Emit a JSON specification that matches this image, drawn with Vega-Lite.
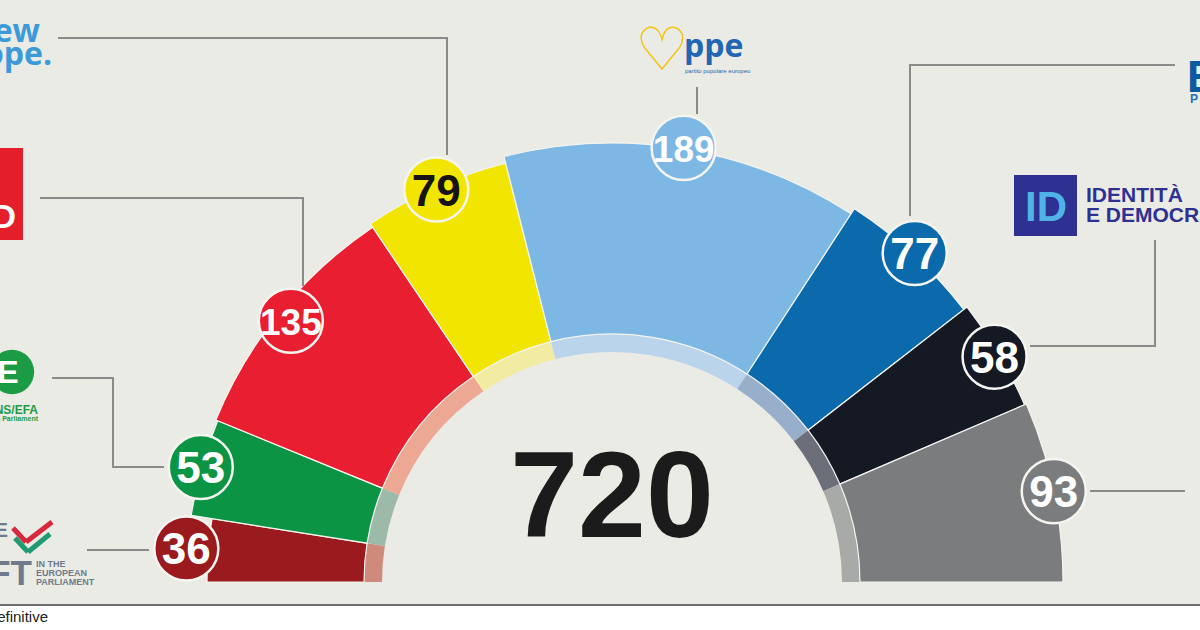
{
  "$schema": "https://vega.github.io/schema/vega-lite/v6.json",
  "width": 1200,
  "height": 630,
  "padding": 0,
  "autosize": {"type": "none"},
  "background": "#ebebe6",
  "config": {"view": {"stroke": null}, "axis": {"disable": true}},
  "datasets": {
    "seats": [
      {"party": "The Left", "seats": 36, "pos": 1},
      {"party": "Greens/EFA", "seats": 53, "pos": 2},
      {"party": "S&D", "seats": 135, "pos": 3},
      {"party": "Renew Europe", "seats": 79, "pos": 4},
      {"party": "PPE", "seats": 189, "pos": 5},
      {"party": "ECR", "seats": 77, "pos": 6},
      {"party": "ID", "seats": 58, "pos": 7},
      {"party": "Altri", "seats": 93, "pos": 8}
    ],
    "one": [{}]
  },
  "resolve": {"scale": {"color": "independent"}},
  "layer": [
    {
      "data": {"name": "seats"},
      "mark": {"type": "arc", "innerRadius": 230, "outerRadius": 248},
      "encoding": {
        "x": {"datum": 0, "type": "quantitative", "scale": {"domain": [-612, 588], "nice": false, "zero": false}, "axis": null},
        "y": {"datum": 0, "type": "quantitative", "scale": {"domain": [-48, 582], "nice": false, "zero": false}, "axis": null},
        "theta": {"field": "seats", "type": "quantitative", "stack": true, "scale": {"domain": [0, 720], "range": [-1.5707963, 1.5707963]}},
        "order": {"field": "pos", "type": "quantitative"},
        "color": {"field": "party", "type": "nominal", "legend": null,
          "scale": {"domain": ["The Left", "Greens/EFA", "S&D", "Renew Europe", "PPE", "ECR", "ID", "Altri"],
                    "range": ["#cf8a7c", "#9dbaa9", "#eca892", "#f1eca2", "#b9d4eb", "#97afca", "#6c6f7a", "#a8aaa8"]}}
      }
    },
    {
      "data": {"name": "seats"},
      "transform": [
        {"window": [{"op": "sum", "field": "seats", "as": "cum"}], "sort": [{"field": "pos"}], "frame": [null, 0]},
        {"calculate": "datum.cum - datum.seats", "as": "start"},
        {"calculate": "[405,426,428,432,439,445,449,451][datum.pos-1]", "as": "r_out"}
      ],
      "mark": {"type": "arc", "innerRadius": 248, "stroke": "#f4f4f0", "strokeWidth": 1.2},
      "encoding": {
        "x": {"datum": 0, "type": "quantitative"},
        "y": {"datum": 0, "type": "quantitative"},
        "theta": {"field": "start", "type": "quantitative", "stack": null, "scale": {"domain": [0, 720], "range": [-1.5707963, 1.5707963]}},
        "theta2": {"field": "cum"},
        "radius": {"field": "r_out", "type": "quantitative", "scale": null},
        "color": {"field": "party", "type": "nominal", "legend": null,
          "scale": {"domain": ["The Left", "Greens/EFA", "S&D", "Renew Europe", "PPE", "ECR", "ID", "Altri"],
                    "range": ["#9a1a1d", "#0b9444", "#e91e31", "#f2e600", "#7db8e4", "#0a6aac", "#141923", "#7b7c7d"]}}
      }
    },
    {"data": {"name": "one"}, "mark": {"type": "rule", "color": "#8a8a8a", "strokeWidth": 2},
     "encoding": {"x": {"datum": 85, "type": "quantitative"}, "y": {"datum": 495, "type": "quantitative"}, "y2": {"datum": 468}}},
    {"data": {"name": "one"}, "mark": {"type": "rule", "color": "#8a8a8a", "strokeWidth": 2},
     "encoding": {"x": {"datum": -554, "type": "quantitative"}, "x2": {"datum": -165}, "y": {"datum": 544, "type": "quantitative"}}},
    {"data": {"name": "one"}, "mark": {"type": "rule", "color": "#8a8a8a", "strokeWidth": 2},
     "encoding": {"x": {"datum": -165, "type": "quantitative"}, "y": {"datum": 545, "type": "quantitative"}, "y2": {"datum": 427}}},
    {"data": {"name": "one"}, "mark": {"type": "rule", "color": "#8a8a8a", "strokeWidth": 2},
     "encoding": {"x": {"datum": -572, "type": "quantitative"}, "x2": {"datum": -309}, "y": {"datum": 384, "type": "quantitative"}}},
    {"data": {"name": "one"}, "mark": {"type": "rule", "color": "#8a8a8a", "strokeWidth": 2},
     "encoding": {"x": {"datum": -309, "type": "quantitative"}, "y": {"datum": 385, "type": "quantitative"}, "y2": {"datum": 296}}},
    {"data": {"name": "one"}, "mark": {"type": "rule", "color": "#8a8a8a", "strokeWidth": 2},
     "encoding": {"x": {"datum": -560, "type": "quantitative"}, "x2": {"datum": -499}, "y": {"datum": 204, "type": "quantitative"}}},
    {"data": {"name": "one"}, "mark": {"type": "rule", "color": "#8a8a8a", "strokeWidth": 2},
     "encoding": {"x": {"datum": -499, "type": "quantitative"}, "y": {"datum": 205, "type": "quantitative"}, "y2": {"datum": 114}}},
    {"data": {"name": "one"}, "mark": {"type": "rule", "color": "#8a8a8a", "strokeWidth": 2},
     "encoding": {"x": {"datum": -500, "type": "quantitative"}, "x2": {"datum": -448}, "y": {"datum": 115, "type": "quantitative"}}},
    {"data": {"name": "one"}, "mark": {"type": "rule", "color": "#8a8a8a", "strokeWidth": 2},
     "encoding": {"x": {"datum": -525, "type": "quantitative"}, "x2": {"datum": -463}, "y": {"datum": 32, "type": "quantitative"}}},
    {"data": {"name": "one"}, "mark": {"type": "rule", "color": "#8a8a8a", "strokeWidth": 2},
     "encoding": {"x": {"datum": 297, "type": "quantitative"}, "x2": {"datum": 563}, "y": {"datum": 517, "type": "quantitative"}}},
    {"data": {"name": "one"}, "mark": {"type": "rule", "color": "#8a8a8a", "strokeWidth": 2},
     "encoding": {"x": {"datum": 298, "type": "quantitative"}, "y": {"datum": 518, "type": "quantitative"}, "y2": {"datum": 366}}},
    {"data": {"name": "one"}, "mark": {"type": "rule", "color": "#8a8a8a", "strokeWidth": 2},
     "encoding": {"x": {"datum": 543, "type": "quantitative"}, "y": {"datum": 342, "type": "quantitative"}, "y2": {"datum": 235}}},
    {"data": {"name": "one"}, "mark": {"type": "rule", "color": "#8a8a8a", "strokeWidth": 2},
     "encoding": {"x": {"datum": 544, "type": "quantitative"}, "x2": {"datum": 418}, "y": {"datum": 236, "type": "quantitative"}}},
    {"data": {"name": "one"}, "mark": {"type": "rule", "color": "#8a8a8a", "strokeWidth": 2},
     "encoding": {"x": {"datum": 478, "type": "quantitative"}, "x2": {"datum": 573}, "y": {"datum": 91, "type": "quantitative"}}},
    {
      "data": {"name": "seats"},
      "transform": [
        {"window": [{"op": "sum", "field": "seats", "as": "cum"}], "sort": [{"field": "pos"}], "frame": [null, 0]},
        {"calculate": "(datum.cum - datum.seats/2)/720*PI", "as": "phi"},
        {"calculate": "[427,427,414,430,440,447,444,451][datum.pos-1]", "as": "rb"},
        {"calculate": "-datum.rb*cos(datum.phi)", "as": "bx"},
        {"calculate": "datum.rb*sin(datum.phi)", "as": "by"}
      ],
      "layer": [
        {
          "mark": {"type": "circle", "size": 4100, "opacity": 1, "stroke": "#f4f4f0", "strokeWidth": 2.5},
          "encoding": {
            "x": {"field": "bx", "type": "quantitative"},
            "y": {"field": "by", "type": "quantitative"},
            "color": {"field": "party", "type": "nominal", "legend": null,
              "scale": {"domain": ["The Left", "Greens/EFA", "S&D", "Renew Europe", "PPE", "ECR", "ID", "Altri"],
                        "range": ["#9a1a1d", "#0b9444", "#e91e31", "#f2e600", "#7db8e4", "#0a6aac", "#141923", "#7b7c7d"]}}
          }
        },
        {
          "mark": {"type": "text", "font": "Liberation Sans", "fontWeight": "bold", "baseline": "middle", "align": "center", "dy": 3},
          "encoding": {
            "x": {"field": "bx", "type": "quantitative"},
            "y": {"field": "by", "type": "quantitative"},
            "text": {"field": "seats", "type": "quantitative"},
            "size": {"condition": {"test": "datum.seats >= 100", "value": 37}, "value": 44},
            "color": {"condition": {"test": "datum.pos == 4", "value": "#151515"}, "value": "#ffffff"}
          }
        }
      ]
    },
    {"data": {"name": "one"}, "mark": {"type": "text", "text": "720", "font": "Liberation Sans", "fontWeight": "bold", "fontSize": 122, "baseline": "alphabetic", "align": "center", "color": "#1b1b1b"},
     "encoding": {"x": {"datum": 0, "type": "quantitative"}, "y": {"datum": 45, "type": "quantitative"}}},

    {"data": {"name": "one"}, "mark": {"type": "text", "text": "Renew", "font": "Open Sans", "fontWeight": "bold", "fontSize": 32, "align": "right", "baseline": "alphabetic", "color": "#3d9ad8"},
     "encoding": {"x": {"datum": -572, "type": "quantitative"}, "y": {"datum": 540, "type": "quantitative"}}},
    {"data": {"name": "one"}, "mark": {"type": "text", "text": "Europe.", "font": "Open Sans", "fontWeight": "bold", "fontSize": 32, "align": "right", "baseline": "alphabetic", "color": "#3d9ad8"},
     "encoding": {"x": {"datum": -560, "type": "quantitative"}, "y": {"datum": 517, "type": "quantitative"}}},

    {"data": {"name": "one"}, "mark": {"type": "rect", "color": "#e41e2b"},
     "encoding": {"x": {"datum": -614, "type": "quantitative"}, "x2": {"datum": -589}, "y": {"datum": 434, "type": "quantitative"}, "y2": {"datum": 342}}},
    {"data": {"name": "one"}, "mark": {"type": "text", "text": "D", "font": "Liberation Sans", "fontWeight": "bold", "fontSize": 34, "align": "right", "baseline": "alphabetic", "color": "#ffffff"},
     "encoding": {"x": {"datum": -596, "type": "quantitative"}, "y": {"datum": 354, "type": "quantitative"}}},

    {"data": {"name": "one"}, "mark": {"type": "circle", "size": 1960, "opacity": 1, "color": "#1c9b45"},
     "encoding": {"x": {"datum": -600, "type": "quantitative"}, "y": {"datum": 210, "type": "quantitative"}}},
    {"data": {"name": "one"}, "mark": {"type": "text", "text": "E", "font": "Liberation Sans", "fontWeight": "bold", "fontSize": 32, "align": "center", "baseline": "middle", "color": "#ffffff"},
     "encoding": {"x": {"datum": -604, "type": "quantitative"}, "y": {"datum": 209, "type": "quantitative"}}},
    {"data": {"name": "one"}, "mark": {"type": "text", "text": "GREENS/EFA", "font": "Liberation Sans", "fontWeight": "bold", "fontSize": 12, "align": "right", "baseline": "alphabetic", "color": "#1c9b45"},
     "encoding": {"x": {"datum": -574, "type": "quantitative"}, "y": {"datum": 168, "type": "quantitative"}}},
    {"data": {"name": "one"}, "mark": {"type": "text", "text": "in the European Parliament", "font": "Liberation Sans", "fontWeight": "bold", "fontSize": 7, "align": "right", "baseline": "alphabetic", "color": "#1c9b45"},
     "encoding": {"x": {"datum": -574, "type": "quantitative"}, "y": {"datum": 161, "type": "quantitative"}}},

    {"data": {"name": "one"}, "mark": {"type": "text", "text": "THE", "font": "Liberation Sans", "fontWeight": "bold", "fontSize": 21, "align": "right", "baseline": "alphabetic", "color": "#6f7b8c"},
     "encoding": {"x": {"datum": -604, "type": "quantitative"}, "y": {"datum": 45, "type": "quantitative"}}},
    {"data": {"name": "one"}, "mark": {"type": "text", "text": "LEFT", "font": "Liberation Sans", "fontWeight": "bold", "fontSize": 35, "align": "right", "baseline": "alphabetic", "color": "#6f7b8c"},
     "encoding": {"x": {"datum": -580, "type": "quantitative"}, "y": {"datum": -3, "type": "quantitative"}}},
    {"data": {"name": "one"}, "mark": {"type": "rule", "color": "#d8283c", "strokeWidth": 5},
     "encoding": {"x": {"datum": -599, "type": "quantitative"}, "x2": {"datum": -586}, "y": {"datum": 54, "type": "quantitative"}, "y2": {"datum": 40}}},
    {"data": {"name": "one"}, "mark": {"type": "rule", "color": "#d8283c", "strokeWidth": 5},
     "encoding": {"x": {"datum": -586, "type": "quantitative"}, "x2": {"datum": -560}, "y": {"datum": 40, "type": "quantitative"}, "y2": {"datum": 60}}},
    {"data": {"name": "one"}, "mark": {"type": "rule", "color": "#1f9a72", "strokeWidth": 5},
     "encoding": {"x": {"datum": -597, "type": "quantitative"}, "x2": {"datum": -584}, "y": {"datum": 44, "type": "quantitative"}, "y2": {"datum": 30}}},
    {"data": {"name": "one"}, "mark": {"type": "rule", "color": "#1f9a72", "strokeWidth": 5},
     "encoding": {"x": {"datum": -584, "type": "quantitative"}, "x2": {"datum": -562}, "y": {"datum": 30, "type": "quantitative"}, "y2": {"datum": 48}}},
    {"data": {"name": "one"}, "mark": {"type": "text", "text": "IN THE", "font": "Liberation Sans", "fontWeight": "bold", "fontSize": 9, "align": "left", "baseline": "alphabetic", "color": "#6f7b8c"},
     "encoding": {"x": {"datum": -576, "type": "quantitative"}, "y": {"datum": 15, "type": "quantitative"}}},
    {"data": {"name": "one"}, "mark": {"type": "text", "text": "EUROPEAN", "font": "Liberation Sans", "fontWeight": "bold", "fontSize": 9, "align": "left", "baseline": "alphabetic", "color": "#6f7b8c"},
     "encoding": {"x": {"datum": -576, "type": "quantitative"}, "y": {"datum": 6, "type": "quantitative"}}},
    {"data": {"name": "one"}, "mark": {"type": "text", "text": "PARLIAMENT", "font": "Liberation Sans", "fontWeight": "bold", "fontSize": 9, "align": "left", "baseline": "alphabetic", "color": "#6f7b8c"},
     "encoding": {"x": {"datum": -576, "type": "quantitative"}, "y": {"datum": -3, "type": "quantitative"}}},

    {"data": {"name": "one"}, "mark": {"type": "text", "text": "♡", "font": "DejaVu Sans", "fontSize": 60, "align": "center", "baseline": "alphabetic", "color": "#f3c316"},
     "encoding": {"x": {"datum": 50, "type": "quantitative"}, "y": {"datum": 512, "type": "quantitative"}}},
    {"data": {"name": "one"}, "mark": {"type": "text", "text": "ppe", "font": "Open Sans", "fontWeight": "bold", "fontSize": 32, "align": "left", "baseline": "alphabetic", "color": "#2366b2"},
     "encoding": {"x": {"datum": 72, "type": "quantitative"}, "y": {"datum": 525, "type": "quantitative"}}},
    {"data": {"name": "one"}, "mark": {"type": "text", "text": "partito popolare europeo", "font": "Liberation Sans", "fontSize": 6, "align": "left", "baseline": "alphabetic", "color": "#2366b2"},
     "encoding": {"x": {"datum": 73, "type": "quantitative"}, "y": {"datum": 509, "type": "quantitative"}}},

    {"data": {"name": "one"}, "mark": {"type": "text", "text": "E", "font": "Liberation Sans", "fontWeight": "bold", "fontSize": 44, "align": "left", "baseline": "alphabetic", "color": "#0a5aa0"},
     "encoding": {"x": {"datum": 575, "type": "quantitative"}, "y": {"datum": 490, "type": "quantitative"}}},
    {"data": {"name": "one"}, "mark": {"type": "text", "text": "P", "font": "Liberation Sans", "fontWeight": "bold", "fontSize": 12, "align": "left", "baseline": "alphabetic", "color": "#1e6fb8"},
     "encoding": {"x": {"datum": 578, "type": "quantitative"}, "y": {"datum": 479, "type": "quantitative"}}},

    {"data": {"name": "one"}, "mark": {"type": "rect", "color": "#2e3192"},
     "encoding": {"x": {"datum": 402, "type": "quantitative"}, "x2": {"datum": 465}, "y": {"datum": 407, "type": "quantitative"}, "y2": {"datum": 346}}},
    {"data": {"name": "one"}, "mark": {"type": "text", "text": "ID", "font": "Liberation Sans", "fontWeight": "bold", "fontSize": 42, "align": "center", "baseline": "alphabetic", "color": "#4fb3e8"},
     "encoding": {"x": {"datum": 434, "type": "quantitative"}, "y": {"datum": 361, "type": "quantitative"}}},
    {"data": {"name": "one"}, "mark": {"type": "text", "text": "IDENTITÀ", "font": "Liberation Sans", "fontWeight": "bold", "fontSize": 21, "align": "left", "baseline": "alphabetic", "color": "#2e3192"},
     "encoding": {"x": {"datum": 474, "type": "quantitative"}, "y": {"datum": 380, "type": "quantitative"}}},
    {"data": {"name": "one"}, "mark": {"type": "text", "text": "E DEMOCRAZIA", "font": "Liberation Sans", "fontWeight": "bold", "fontSize": 21, "align": "left", "baseline": "alphabetic", "color": "#2e3192"},
     "encoding": {"x": {"datum": 474, "type": "quantitative"}, "y": {"datum": 360, "type": "quantitative"}}},

    {"data": {"name": "one"}, "mark": {"type": "rect", "color": "#ffffff"},
     "encoding": {"x": {"datum": -614, "type": "quantitative"}, "x2": {"datum": 590}, "y": {"datum": -23, "type": "quantitative"}, "y2": {"datum": -50}}},
    {"data": {"name": "one"}, "mark": {"type": "rule", "color": "#6e6e6e", "strokeWidth": 2},
     "encoding": {"x": {"datum": -614, "type": "quantitative"}, "x2": {"datum": 590}, "y": {"datum": -23, "type": "quantitative"}}},
    {"data": {"name": "one"}, "mark": {"type": "text", "text": "definitive", "font": "Liberation Sans", "fontSize": 15, "align": "right", "baseline": "alphabetic", "color": "#222222"},
     "encoding": {"x": {"datum": -564, "type": "quantitative"}, "y": {"datum": -40, "type": "quantitative"}}}
  ]
}
